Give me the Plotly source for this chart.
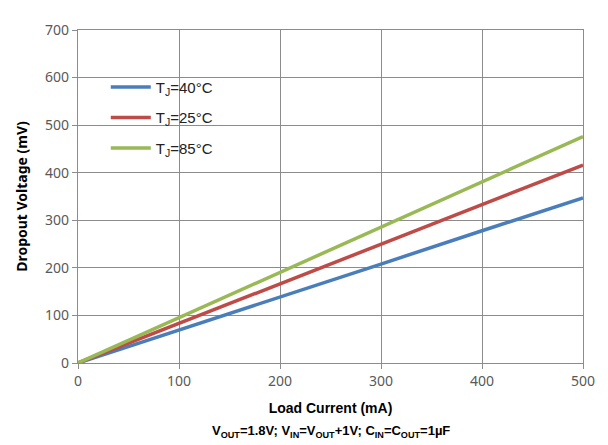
import plotly.graph_objects as go

load_current = [0, 100, 200, 300, 400, 500]
vdo_m40 = [0, 69, 138, 208, 278, 347]
vdo_25 = [0, 83, 166, 249, 332, 416]
vdo_85 = [0, 95, 190, 285, 380, 476]

names = ["T<sub>J</sub>=40°C", "T<sub>J</sub>=25°C", "T<sub>J</sub>=85°C"]
colors = ["#4a7ebb", "#be4b48", "#98b954"]
series = [vdo_m40, vdo_25, vdo_85]

x_ticks = [0, 100, 200, 300, 400, 500]
y_ticks = [0, 100, 200, 300, 400, 500, 600, 700]

fig = go.Figure()
for i, (n, c, s) in enumerate(zip(names, colors, series)):
    fig.add_trace(go.Scatter(x=load_current, y=s, mode="lines", name=n,
                             legendgroup=f"g{i}",
                             line=dict(color=c, width=3.5)))

fig.update_layout(
    width=600, height=437,
    margin=dict(l=70, r=25, t=12, b=82),
    paper_bgcolor="white", plot_bgcolor="white",
    showlegend=True,
    legend=dict(x=0.055, y=0.878, xanchor="left", yanchor="top",
                bgcolor="rgba(0,0,0,0)", traceorder="grouped",
                tracegroupgap=8, itemwidth=40,
                font=dict(family="Liberation Sans, Arial", size=15, color="#222")),
    xaxis=dict(range=[0, 500], tickvals=x_ticks, showgrid=True,
               gridcolor="#8c8c8c", gridwidth=1.3,
               showline=True, linecolor="#8c8c8c", linewidth=1.3, mirror=True,
               ticks="outside", ticklen=5, tickcolor="#8c8c8c",
               zeroline=False,
               tickfont=dict(family="Noto Sans, Liberation Sans", size=14, color="#595959"),
               title=dict(text="<b>Load Current (mA)</b>", standoff=14,
                          font=dict(family="Liberation Sans, Arial", size=14, color="#000"))),
    yaxis=dict(range=[0, 700], tickvals=y_ticks, showgrid=True,
               gridcolor="#8c8c8c", gridwidth=1.3,
               showline=True, linecolor="#8c8c8c", linewidth=1.3, mirror=True,
               ticks="outside", ticklen=5, tickcolor="#8c8c8c",
               zeroline=False,
               tickfont=dict(family="Noto Sans, Liberation Sans", size=14, color="#595959"),
               title=dict(text="<b>Dropout Voltage (mV)</b>", standoff=14,
                          font=dict(family="Noto Sans, Liberation Sans", size=14, color="#000"))),
)

fig.add_annotation(
    text="<b>V<sub>OUT</sub>=1.8V; V<sub>IN</sub>=V<sub>OUT</sub>+1V; C<sub>IN</sub>=C<sub>OUT</sub>=1µF</b>",
    xref="paper", yref="paper", x=0.5, y=-0.175, xanchor="center", yanchor="top",
    showarrow=False, font=dict(family="Liberation Sans, Arial", size=13, color="#000"))

fig.write_html("out.html")
